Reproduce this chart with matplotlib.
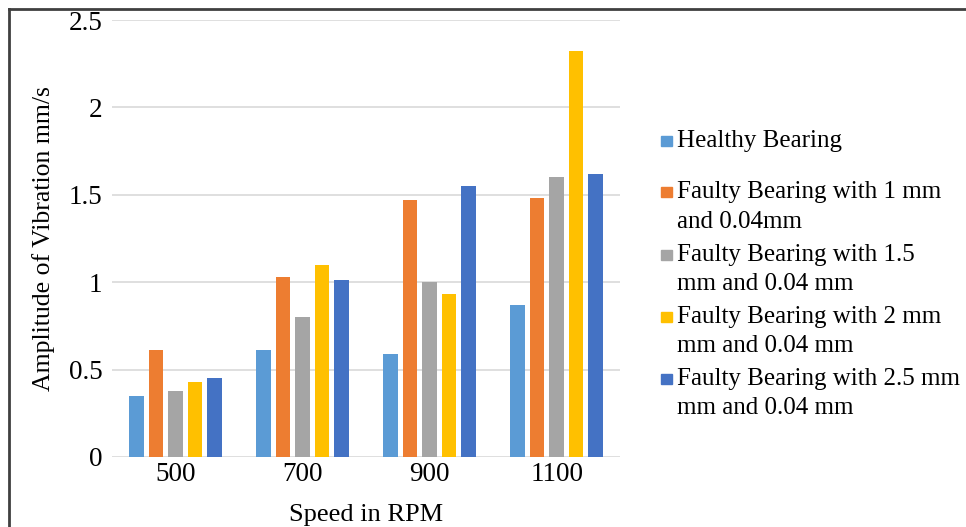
import numpy as np
import matplotlib.pyplot as plt
from matplotlib.patches import Rectangle
from matplotlib.lines import Line2D

plt.rcParams['font.family'] = ['Liberation Serif', 'DejaVu Serif']

# values
speeds = ['500', '700', '900', '1100']
healthy = [0.35, 0.61, 0.59, 0.87]
fault_1mm = [0.61, 1.03, 1.47, 1.48]
fault_15mm = [0.38, 0.80, 1.00, 1.60]
fault_2mm = [0.43, 1.10, 0.93, 2.32]
fault_25mm = [0.45, 1.01, 1.55, 1.62]

labels = ['Healthy Bearing',
          'Faulty Bearing with 1 mm\nand 0.04mm',
          'Faulty Bearing with 1.5\nmm and 0.04 mm',
          'Faulty Bearing with 2 mm\nmm and 0.04 mm',
          'Faulty Bearing with 2.5 mm\nmm and 0.04 mm']
colors = ['#5B9BD5', '#ED7D31', '#A5A5A5', '#FFC000', '#4472C4']
series = [healthy, fault_1mm, fault_15mm, fault_2mm, fault_25mm]

fig = plt.figure(figsize=(9.66, 5.27), dpi=100)
ax = fig.add_axes([0.116, 0.133, 0.526, 0.829])

x = np.arange(len(speeds))
step = 0.1535
width = 0.114
for i, (vals, c) in enumerate(zip(series, colors)):
    ax.bar(x + (i - 2) * step, vals, width, color=c, zorder=3)

ax.set_xlim(-0.5, len(speeds) - 0.5)
ax.set_ylim(0, 2.5)
ax.set_yticks([0, 0.5, 1, 1.5, 2, 2.5])
ax.set_yticklabels(['0', '0.5', '1', '1.5', '2', '2.5'])
ax.set_xticks(x)
ax.set_xticklabels(speeds)
ax.grid(axis='y', color='#d9d9d9', linewidth=1.2, zorder=0)
for s in ax.spines.values():
    s.set_visible(False)
ax.tick_params(length=0, labelsize=19.5, pad=4)
ax.tick_params(axis='y', pad=7)
ax.set_xlabel('Speed in RPM', fontsize=19, labelpad=12)
ax.set_ylabel('Amplitude of Vibration mm/s', fontsize=18.5, labelpad=10)

# legend drawn by hand to mimic the uneven spacing
W, H = 966, 527
baselines = [146.5, 198, 261, 323, 385]
line_gap = 29.5
for lab, c, yb in zip(labels, colors, baselines):
    fig.add_artist(Rectangle((661 / W, 1 - (yb - 1) / H), 11 / W, 10 / H,
                             transform=fig.transFigure, color=c))
    for k, line in enumerate(lab.split('\n')):
        fig.text(677 / W, 1 - (yb + k * line_gap) / H, line, fontsize=18,
                 va='baseline', ha='left')

# outer frame
fig.add_artist(Line2D([9 / W, 1], [1 - 9 / H, 1 - 9 / H], transform=fig.transFigure,
                      color='#404040', linewidth=2))
fig.add_artist(Line2D([9 / W, 9 / W], [0, 1 - 9 / H], transform=fig.transFigure,
                      color='#404040', linewidth=2))

plt.savefig('out.png', dpi=100)
